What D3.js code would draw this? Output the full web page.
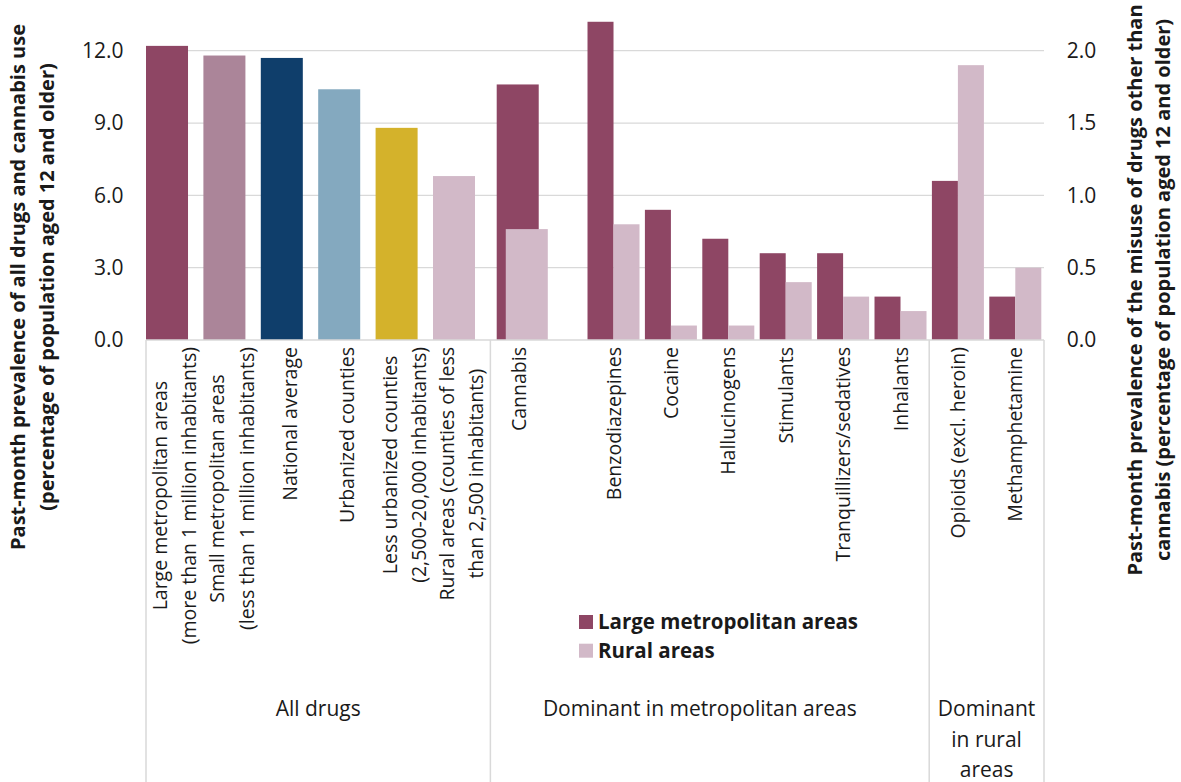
<!DOCTYPE html>
<html><head><meta charset="utf-8">
<script src="https://cdn.jsdelivr.net/npm/d3@7"></script>
<style>
body{margin:0;background:#fff}
svg{display:block}
text{font-family:"Open Sans",Lato,sans-serif;fill:#1a1a1a}
</style>
</head><body>
<svg id="chart" width="1181" height="782"></svg>
<script>
// ---------- data ----------
const allDrugsLabels = [
  ["Large metropolitan areas", "(more than 1 million inhabitants)"],
  ["Small metropolitan areas", "(less than 1 million inhabitants)"],
  ["National average"],
  ["Urbanized counties"],
  ["Less urbanized counties", "(2,500-20,000 inhabitants)"],
  ["Rural areas (counties of less", "than 2,500 inhabitants)"]
];
const allDrugsValues = [12.2, 11.8, 11.7, 10.4, 8.8, 6.8];
const allDrugsColors = ["#8e4664", "#ab8599", "#0f3e6b", "#84a9bf", "#d4b22b", "#d2b9c8"];

const cannabisLabel = ["Cannabis"];
const cannabisLarge = 10.6;
const cannabisRural = 4.6;

const otherDrugs = ["Benzodiazepines", "Cocaine", "Hallucinogens", "Stimulants",
  "Tranquillizers/sedatives", "Inhalants", "Opioids (excl. heroin)", "Methamphetamine"];
const otherLarge = [2.2, 0.9, 0.7, 0.6, 0.6, 0.3, 1.1, 0.3];
const otherRural = [0.8, 0.1, 0.1, 0.4, 0.3, 0.2, 1.9, 0.5];

const groupNames = [["All drugs"], ["Dominant in metropolitan areas"], ["Dominant", "in rural", "areas"]];
const groupSizes = [6, 7, 2];

const leftTicks = [0, 3, 6, 9, 12];
const rightTicks = [0, 0.5, 1, 1.5, 2];
const seriesNames = ["Large metropolitan areas", "Rural areas"];
const seriesColors = ["#8e4664", "#d2b9c8"];

const leftTitle = ["Past-month prevalence of all drugs and cannabis use", "(percentage of population aged 12 and older)"];
const rightTitle = ["Past-month prevalence of the misuse of drugs other than", "cannabis (percentage of population aged 12 and older)"];

// ---------- layout ----------
const svg = d3.select("#chart");
const plotL = 146, plotR = 1044, plotT = 50.7, plotB = 340;
const gapUnits = 0.645;              // spacer after the cannabis slot
const totalUnits = 15 + gapUnits;
const x = d3.scaleLinear().domain([0, totalUnits]).range([plotL, plotR]);
const u = x(1) - x(0);
const yL = d3.scaleLinear().domain([0, 12]).range([plotB, plotT]);
const yR = d3.scaleLinear().domain([0, 2]).range([plotB, plotT]);
const gridColor = "#d9d9d9";

// slot positions
const allSlots = allDrugsValues.map((d, i) => i);
const cannabisSlot = 6;
const otherSlots = otherDrugs.map((d, i) => 7 + gapUnits + i);

// gridlines
svg.append("g").selectAll("line").data(leftTicks.filter(t => t > 0)).join("line")
  .attr("x1", plotL).attr("x2", plotR)
  .attr("y1", d => yL(d)).attr("y2", d => yL(d))
  .attr("stroke", gridColor).attr("stroke-width", 1.3);

// all drugs bars
svg.append("g").selectAll("rect").data(allDrugsValues).join("rect")
  .attr("x", (d, i) => x(allSlots[i]))
  .attr("width", 0.732 * u)
  .attr("y", d => yL(d))
  .attr("height", d => yL(0) - yL(d))
  .attr("fill", (d, i) => allDrugsColors[i]);

// cannabis (primary axis, overlapped)
const canG = svg.append("g");
[[cannabisLarge, 0.11, seriesColors[0]], [cannabisRural, 0.268, seriesColors[1]]].forEach(([v, off, c]) => {
  canG.append("rect")
    .attr("x", x(cannabisSlot) + off * u)
    .attr("width", 0.732 * u)
    .attr("y", yL(v)).attr("height", yL(0) - yL(v))
    .attr("fill", c);
});

// other drugs (secondary axis)
const bw2 = 0.453 * u;
const og = svg.append("g");
og.selectAll("rect.l").data(otherLarge).join("rect").attr("class", "l")
  .attr("x", (d, i) => x(otherSlots[i] + 0.5) - bw2)
  .attr("width", bw2)
  .attr("y", d => yR(d)).attr("height", d => yR(0) - yR(d))
  .attr("fill", seriesColors[0]);
og.selectAll("rect.r").data(otherRural).join("rect").attr("class", "r")
  .attr("x", (d, i) => x(otherSlots[i] + 0.5))
  .attr("width", bw2)
  .attr("y", d => yR(d)).attr("height", d => yR(0) - yR(d))
  .attr("fill", seriesColors[1]);

// base axis line and group separators
svg.append("line").attr("x1", plotL).attr("x2", plotR).attr("y1", plotB).attr("y2", plotB)
  .attr("stroke", gridColor).attr("stroke-width", 1.5);
const sepPos = [0, 6, 13 + gapUnits, totalUnits];
svg.append("g").selectAll("line").data(sepPos).join("line")
  .attr("x1", d => x(d)).attr("x2", d => x(d))
  .attr("y1", plotB).attr("y2", 782)
  .attr("stroke", gridColor).attr("stroke-width", 1.5);

// y axes
const fmt = d3.format(".1f");
const axL = svg.append("g").attr("transform", `translate(${plotL},0)`)
  .call(d3.axisLeft(yL).tickValues(leftTicks).tickFormat(fmt).tickSize(0).tickPadding(22.5));
const axR = svg.append("g").attr("transform", `translate(${plotR},0)`)
  .call(d3.axisRight(yR).tickValues(rightTicks).tickFormat(fmt).tickSize(0).tickPadding(22.7));
[axL, axR].forEach(a => {
  a.select(".domain").remove();
  a.selectAll("text").attr("font-size", 21).attr("fill", "#1a1a1a").style("font-family", "'Open Sans'");
});

// category labels (rotated)
const catFs = 19.5, pitch = 29.5;
function rotLabel(lines, cx) {
  const g = svg.append("g").attr("transform", `translate(${cx},347) rotate(-90)`);
  const n = lines.length;
  const ts = lines.map((s, k) => g.append("text")
    .attr("font-size", catFs)
    .attr("text-anchor", "middle")
    .attr("y", (k - (n - 1) / 2) * pitch + 0.36 * catFs)
    .text(s));
  const maxLen = d3.max(ts, t => t.node().getComputedTextLength());
  ts.forEach(t => t.attr("x", -maxLen / 2));
}
allDrugsLabels.forEach((l, i) => rotLabel(l, x(allSlots[i] + 0.5)));
rotLabel(cannabisLabel, x(cannabisSlot + 0.5));
otherDrugs.forEach((l, i) => rotLabel([l], x(otherSlots[i] + 0.5)));

// group labels
const groupCx = [x(3), x(6) + (x(13 + gapUnits) - x(6)) / 2 - 10, (x(13 + gapUnits) + x(totalUnits)) / 2];
groupNames.forEach((lines, gi) => {
  lines.forEach((s, k) => {
    svg.append("text").attr("x", groupCx[gi]).attr("y", 716 + k * 30.5)
      .attr("text-anchor", "middle").attr("font-size", 21).text(s);
  });
});

// legend
const lg = svg.append("g");
seriesNames.forEach((s, i) => {
  lg.append("rect").attr("x", 579).attr("y", 615 + i * 28.7).attr("width", 14).attr("height", 14)
    .attr("fill", seriesColors[i]);
  lg.append("text").attr("x", 598).attr("y", 629 + i * 28.7)
    .attr("font-size", 20.5).attr("font-weight", "bold").attr("fill", "#000").text(s);
});

// axis titles
function title(lines, cy, baselines) {
  const g = svg.append("g").attr("transform", `translate(0,${cy}) rotate(-90)`);
  lines.forEach((s, k) => g.append("text").attr("x", 0).attr("y", baselines[k])
    .attr("text-anchor", "middle").attr("font-size", 20).attr("font-weight", "bold")
    .attr("fill", "#000").text(s));
}
title(leftTitle, 287, [25, 54]);
title(rightTitle, 290, [1142, 1170]);
</script>
</body></html>
